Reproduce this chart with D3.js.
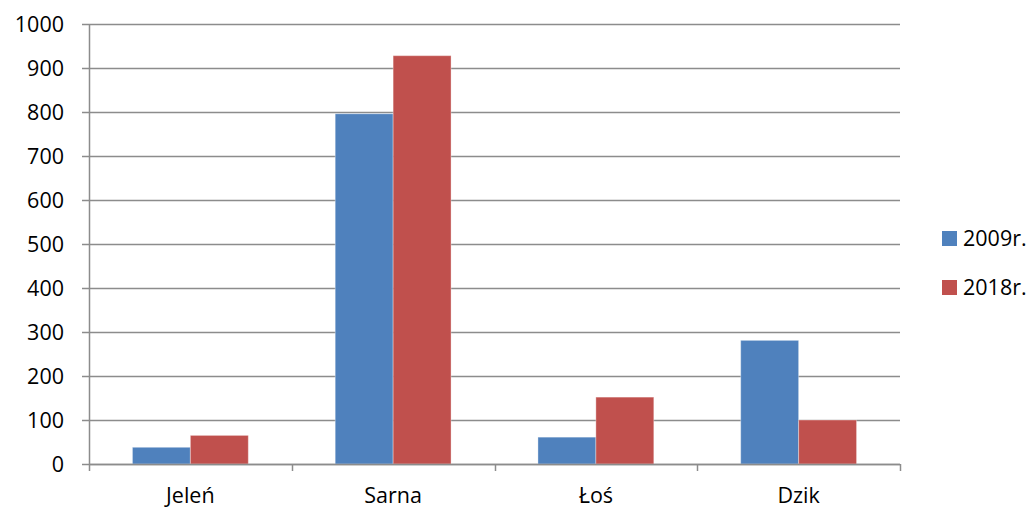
<!DOCTYPE html>
<html>
<head>
<meta charset="utf-8">
<script src="https://cdn.jsdelivr.net/npm/d3@7"></script>
<style>
  body { margin: 0; background: #fff; }
  svg text { font-family: "Open Sans", sans-serif; fill: #000; }
</style>
</head>
<body>
<svg id="chart" width="1035" height="509"></svg>
<script>
// data
var categories = ["Jeleń", "Sarna", "Łoś", "Dzik"];
var series = ["2009r.", "2018r."];
var values2009 = [38, 796, 61, 281];
var values2018 = [65, 928, 152, 100];
var yTicks = [0, 100, 200, 300, 400, 500, 600, 700, 800, 900, 1000];
var colors = ["#4F81BD", "#C0504D"];

var svg = d3.select("#chart");
var plotLeft = 89, plotRight = 900, plotTop = 24, plotBottom = 464;
var fontSize = 21.5;

var y = d3.scaleLinear().domain([0, 1000]).range([plotBottom, plotTop]);
var x0 = d3.scaleBand().domain(categories).range([plotLeft, plotRight]).padding(0);
var gap = x0.bandwidth() * 1.5 / 3.5; // excel gap width 150%
var x1 = d3.scaleBand().domain(series).range([gap / 2, x0.bandwidth() - gap / 2]).padding(0);

// gridlines
svg.append("g")
  .selectAll("line")
  .data(yTicks)
  .enter().append("line")
  .attr("x1", plotLeft - 7)
  .attr("x2", plotRight)
  .attr("y1", function (d) { return Math.round(y(d)) + 0.5; })
  .attr("y2", function (d) { return Math.round(y(d)) + 0.5; })
  .attr("stroke", "#8c8c8c")
  .attr("stroke-width", 1.5);

// y labels
svg.append("g")
  .selectAll("text")
  .data(yTicks)
  .enter().append("text")
  .attr("x", 64)
  .attr("y", function (d) { return y(d); })
  .attr("dy", "0.35em")
  .attr("text-anchor", "end")
  .attr("font-size", fontSize)
  .text(function (d) { return d; });

// bars
var rows = categories.map(function (c, i) {
  return { cat: c, vals: [values2009[i], values2018[i]] };
});
var groups = svg.append("g")
  .selectAll("g")
  .data(rows)
  .enter().append("g")
  .attr("transform", function (d) { return "translate(" + x0(d.cat) + ",0)"; });

groups.selectAll("rect")
  .data(function (d) { return d.vals.map(function (v, j) { return { s: series[j], v: v, j: j }; }); })
  .enter().append("rect")
  .attr("x", function (d) { return x1(d.s); })
  .attr("width", x1.bandwidth())
  .attr("y", function (d) { return y(d.v); })
  .attr("height", function (d) { return plotBottom - y(d.v); })
  .attr("fill", function (d) { return colors[d.j]; })
  .attr("stroke", "#fff")
  .attr("stroke-opacity", 0.35)
  .attr("stroke-width", 1);

// axes lines
svg.append("line")
  .attr("x1", plotLeft + 0.5).attr("x2", plotLeft + 0.5)
  .attr("y1", plotTop).attr("y2", plotBottom + 7)
  .attr("stroke", "#8c8c8c").attr("stroke-width", 1.5);
svg.append("line")
  .attr("x1", plotLeft).attr("x2", plotRight)
  .attr("y1", plotBottom + 0.5).attr("y2", plotBottom + 0.5)
  .attr("stroke", "#8c8c8c").attr("stroke-width", 1.5);

// category ticks
var catTicks = categories.map(function (c) { return x0(c) + x0.bandwidth(); });
svg.append("g")
  .selectAll("line")
  .data(catTicks)
  .enter().append("line")
  .attr("x1", function (d) { return Math.round(d) + 0.5; })
  .attr("x2", function (d) { return Math.round(d) + 0.5; })
  .attr("y1", plotBottom)
  .attr("y2", plotBottom + 7)
  .attr("stroke", "#8c8c8c").attr("stroke-width", 1.5);

// category labels
svg.append("g")
  .selectAll("text")
  .data(categories)
  .enter().append("text")
  .attr("x", function (d) { return x0(d) + x0.bandwidth() / 2; })
  .attr("y", 495)
  .attr("dy", "0.35em")
  .attr("text-anchor", "middle")
  .attr("font-size", fontSize)
  .text(function (d) { return d; });

// legend
var legend = svg.append("g")
  .selectAll("g")
  .data(series)
  .enter().append("g")
  .attr("transform", function (d, i) { return "translate(942," + (238 + i * 49) + ")"; });
legend.append("rect")
  .attr("x", 0).attr("y", -7)
  .attr("width", 15).attr("height", 15)
  .attr("fill", function (d, i) { return colors[i]; });
legend.append("text")
  .attr("x", 21)
  .attr("y", 0)
  .attr("dy", "0.35em")
  .attr("font-size", fontSize)
  .text(function (d) { return d; });
</script>
</body>
</html>
